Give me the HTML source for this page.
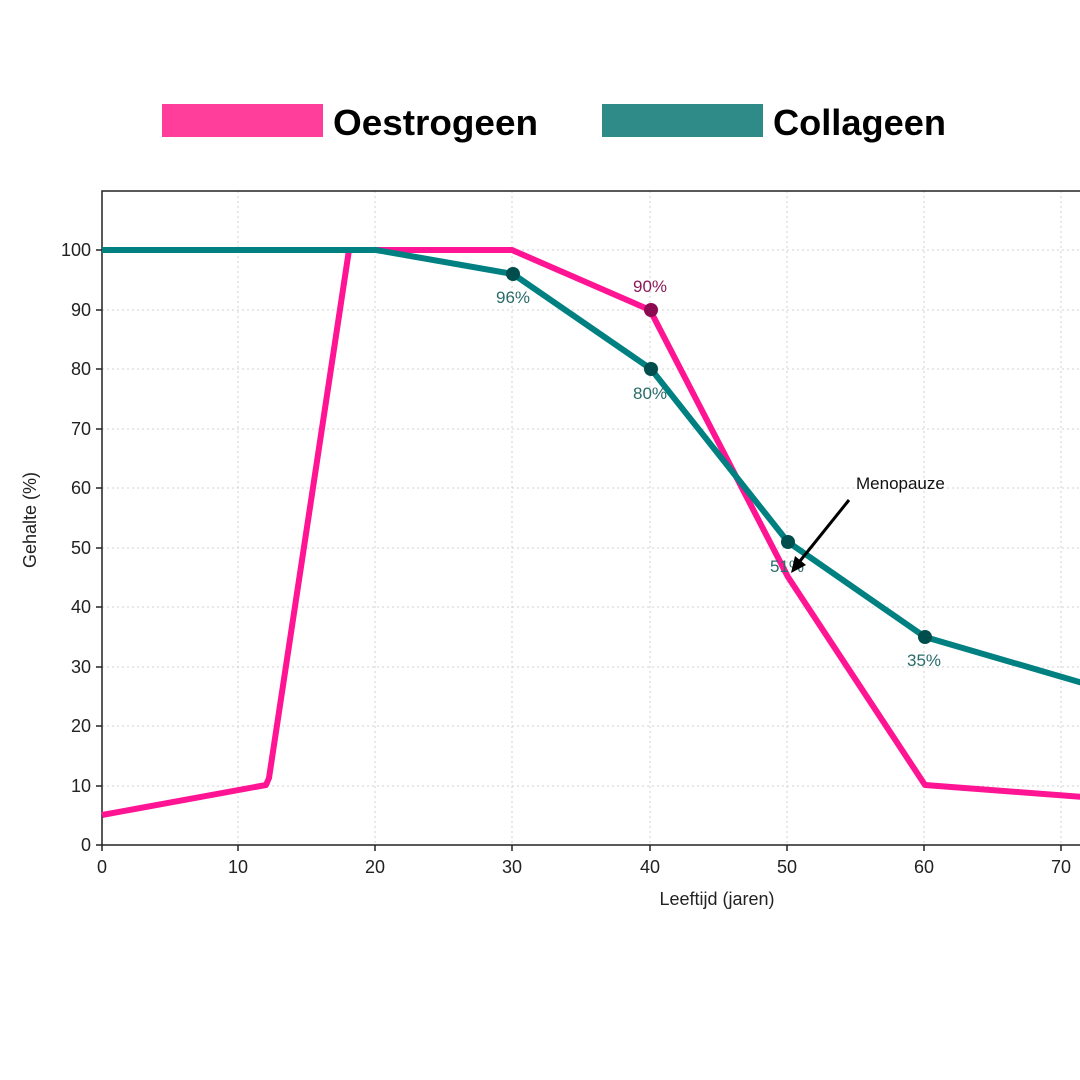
<!DOCTYPE html>
<html><head><meta charset="utf-8"><style>
html,body{margin:0;padding:0;background:#fff;}
svg{display:block;font-family:"Liberation Sans","DejaVu Sans",sans-serif;}
</style></head><body>
<svg width="1080" height="1080" viewBox="0 0 1080 1080" xmlns="http://www.w3.org/2000/svg">
<rect width="1080" height="1080" fill="#fff"/>
<rect x="162" y="104" width="161" height="33" fill="#ff3d9a"/>
<text x="333" y="135" font-size="36" font-weight="bold" fill="#000" textLength="205" lengthAdjust="spacingAndGlyphs">Oestrogeen</text>
<rect x="602" y="104" width="161" height="33" fill="#2e8b88"/>
<text x="773" y="135" font-size="36" font-weight="bold" fill="#000" textLength="173" lengthAdjust="spacingAndGlyphs">Collageen</text>
<g stroke="#d0d0d0" stroke-width="1" stroke-dasharray="2,3">
<line x1="238" y1="191" x2="238" y2="845"/><line x1="375" y1="191" x2="375" y2="845"/>
<line x1="512" y1="191" x2="512" y2="845"/><line x1="650" y1="191" x2="650" y2="845"/>
<line x1="787" y1="191" x2="787" y2="845"/><line x1="924" y1="191" x2="924" y2="845"/>
<line x1="1061" y1="191" x2="1061" y2="845"/>
<line x1="102" y1="786" x2="1080" y2="786"/><line x1="102" y1="726" x2="1080" y2="726"/>
<line x1="102" y1="667" x2="1080" y2="667"/><line x1="102" y1="607" x2="1080" y2="607"/>
<line x1="102" y1="548" x2="1080" y2="548"/><line x1="102" y1="488" x2="1080" y2="488"/>
<line x1="102" y1="429" x2="1080" y2="429"/><line x1="102" y1="369" x2="1080" y2="369"/>
<line x1="102" y1="310" x2="1080" y2="310"/><line x1="102" y1="250" x2="1080" y2="250"/>
</g>
<path d="M1080,191 H102 V845 H1080" fill="none" stroke="#222" stroke-width="1.5"/>
<g stroke="#222" stroke-width="1.5">
<line x1="102" y1="845" x2="102" y2="851"/><line x1="238" y1="845" x2="238" y2="851"/>
<line x1="375" y1="845" x2="375" y2="851"/><line x1="512" y1="845" x2="512" y2="851"/>
<line x1="650" y1="845" x2="650" y2="851"/><line x1="787" y1="845" x2="787" y2="851"/>
<line x1="924" y1="845" x2="924" y2="851"/><line x1="1061" y1="845" x2="1061" y2="851"/>
<line x1="96" y1="845" x2="102" y2="845"/><line x1="96" y1="786" x2="102" y2="786"/>
<line x1="96" y1="726" x2="102" y2="726"/><line x1="96" y1="667" x2="102" y2="667"/>
<line x1="96" y1="607" x2="102" y2="607"/><line x1="96" y1="548" x2="102" y2="548"/>
<line x1="96" y1="488" x2="102" y2="488"/><line x1="96" y1="429" x2="102" y2="429"/>
<line x1="96" y1="369" x2="102" y2="369"/><line x1="96" y1="310" x2="102" y2="310"/>
<line x1="96" y1="250" x2="102" y2="250"/>
</g>
<g font-size="18" fill="#222" text-anchor="middle">
<text x="102" y="873">0</text><text x="238" y="873">10</text><text x="375" y="873">20</text>
<text x="512" y="873">30</text><text x="650" y="873">40</text><text x="787" y="873">50</text>
<text x="924" y="873">60</text><text x="1061" y="873">70</text>
</g>
<g font-size="18" fill="#222" text-anchor="end">
<text x="91" y="851">0</text><text x="91" y="792">10</text><text x="91" y="732">20</text>
<text x="91" y="673">30</text><text x="91" y="613">40</text><text x="91" y="554">50</text>
<text x="91" y="494">60</text><text x="91" y="435">70</text><text x="91" y="375">80</text>
<text x="91" y="316">90</text><text x="91" y="256">100</text>
</g>
<text x="717" y="905" font-size="18" fill="#222" text-anchor="middle">Leeftijd (jaren)</text>
<text transform="translate(36,520) rotate(-90)" font-size="18" fill="#222" text-anchor="middle">Gehalte (%)</text>
<polyline points="102,815 266,785 269,778 349,250 512,250 650,310 788,577 925,785 1110,799" fill="none" stroke="#ff1493" stroke-width="6" stroke-linejoin="round"/>
<polyline points="102,250 376,250 513,274 651,369 788,542 925,637 1110,691" fill="none" stroke="#008080" stroke-width="6" stroke-linejoin="round"/>
<circle cx="651" cy="310" r="7" fill="#8b0a50"/>
<circle cx="513" cy="274" r="7" fill="#004d4d"/>
<circle cx="651" cy="369" r="7" fill="#004d4d"/>
<circle cx="788" cy="542" r="7" fill="#004d4d"/>
<circle cx="925" cy="637" r="7" fill="#004d4d"/>
<g font-size="17" text-anchor="middle">
<text x="650" y="292" fill="#8b1a5a">90%</text>
<text x="513" y="303" fill="#2a6b6b">96%</text>
<text x="650" y="399" fill="#2a6b6b">80%</text>
<text x="787" y="572" fill="#2a6b6b">51%</text>
<text x="924" y="666" fill="#2a6b6b">35%</text>
</g>
<text x="856" y="489" font-size="17" fill="#111">Menopauze</text>
<line x1="849" y1="500" x2="800" y2="561" stroke="#000" stroke-width="3"/>
<polygon points="791,573 795,556 806,565" fill="#000"/>
</svg>
</body></html>
